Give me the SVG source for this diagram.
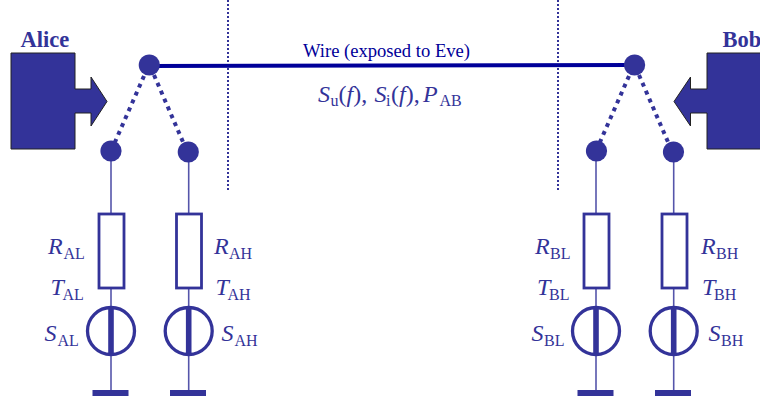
<svg xmlns="http://www.w3.org/2000/svg" width="760" height="406" viewBox="0 0 760 406">
<style>
.t{font-family:"Liberation Serif","Times New Roman",serif;fill:#333399}
.n{font-size:24px;font-style:italic}
.s{font-size:16px}
.b{font-size:22.500px;font-weight:bold}
.d{fill:#333399;stroke:none}
.l{stroke:#5555aa;stroke-width:1.6;fill:none}
.r{fill:#fff;stroke:#333399;stroke-width:2.8}
.c{fill:#fff;stroke:#333399;stroke-width:3.300}
.sw{stroke:#333399;stroke-width:4;stroke-dasharray:4 4.600;fill:none}
.v{stroke:#333399;stroke-width:2;stroke-dasharray:2 2;fill:none}
.box{fill:#333399;stroke:#222;stroke-width:1}
</style>
<g id="connectors">
<line class="v" x1="228" y1="0" x2="228" y2="191"/>
<line class="v" x1="558" y1="0" x2="558" y2="191"/>
<line x1="149" y1="66" x2="634" y2="65" stroke="#000099" stroke-width="4"/>
<line class="sw" x1="144" y1="76" x2="115" y2="142"/>
<line class="sw" x1="154" y1="75" x2="183" y2="142"/>
<line class="sw" x1="629" y1="76" x2="600" y2="142"/>
<line class="sw" x1="639" y1="75" x2="668" y2="142"/>
<line class="l" x1="111" y1="151" x2="111" y2="392"/>
<line class="l" x1="188.700" y1="151" x2="188.700" y2="392"/>
<line class="l" x1="596" y1="151" x2="596" y2="392"/>
<line class="l" x1="673.700" y1="151" x2="673.700" y2="392"/>
</g>
<g id="alice">
<path class="box" d="M11 53H75V89H91V77L107 101.500 91 126V113H75V149H11Z"/>
<text class="t b" x="20.500" y="47">Alice</text>
</g>
<g id="bob">
<path class="box" d="M761 53H707V89H690.500V77L674 101.500 690.500 126V113H707V149H761Z"/>
<text class="t b" x="722.500" y="47">Bob</text>
</g>
<g id="wire-label">
<text x="386.500" y="56.500" text-anchor="middle" font-size="18.600" font-family="'Liberation Serif','Times New Roman',serif" fill="#000099">Wire (exposed to Eve)</text>
<text class="t" x="318" y="102" font-size="24" font-style="italic">S</text>
<text class="t s" x="330.500" y="106">u</text>
<text class="t" x="338.500" y="102" font-size="24">(<tspan font-style="italic">f</tspan>),</text>
<text class="t" x="374.500" y="102" font-size="24" font-style="italic">S</text>
<text class="t s" x="386" y="106">i</text>
<text class="t" x="391" y="102" font-size="24">(<tspan font-style="italic">f</tspan>),</text>
<text class="t" x="423" y="102" font-size="24" font-style="italic">P</text>
<text class="t s" x="439.500" y="106">AB</text>
</g>
<g id="hub-a"><circle class="d" cx="149.300" cy="65" r="10.600"/></g>
<g id="hub-b"><circle class="d" cx="634.600" cy="65" r="10.600"/></g>
<g id="branch-al">
<circle class="d" cx="111" cy="151" r="10.600"/>
<rect class="r" x="99" y="214" width="25" height="74"/>
<circle class="c" cx="111" cy="331" r="23.500"/>
<rect class="d" x="108.200" y="307" width="5.600" height="48"/>
<rect class="d" x="92.500" y="390" width="36" height="6"/>
<text class="t n" x="48" y="254">R</text><text class="t s" x="63.500" y="259">AL</text>
<text class="t n" x="50.500" y="295">T</text><text class="t s" x="62.500" y="300">AL</text>
<text class="t n" x="44.500" y="340.500">S</text><text class="t s" x="57.500" y="345.500">AL</text>
</g>
<g id="branch-ah">
<circle class="d" cx="188.300" cy="152" r="10.600"/>
<rect class="r" x="176.500" y="214" width="25" height="74"/>
<circle class="c" cx="188.700" cy="331" r="23.500"/>
<rect class="d" x="185.900" y="307" width="5.600" height="48"/>
<rect class="d" x="170" y="390" width="36" height="6"/>
<text class="t n" x="214" y="254">R</text><text class="t s" x="229" y="259">AH</text>
<text class="t n" x="215.500" y="295">T</text><text class="t s" x="227.500" y="300">AH</text>
<text class="t n" x="221.500" y="340.500">S</text><text class="t s" x="234.500" y="345.500">AH</text>
</g>
<g id="branch-bl">
<circle class="d" cx="596.500" cy="151" r="10.600"/>
<rect class="r" x="584" y="214" width="25" height="74"/>
<circle class="c" cx="596" cy="331" r="23.500"/>
<rect class="d" x="593.200" y="307" width="5.600" height="48"/>
<rect class="d" x="577.500" y="390" width="36" height="6"/>
<text class="t n" x="535" y="254">R</text><text class="t s" x="550" y="259">BL</text>
<text class="t n" x="537" y="295">T</text><text class="t s" x="549" y="300">BL</text>
<text class="t n" x="531.500" y="340.500">S</text><text class="t s" x="544" y="345.500">BL</text>
</g>
<g id="branch-bh">
<circle class="d" cx="673.500" cy="152" r="10.600"/>
<rect class="r" x="662" y="214" width="25" height="74"/>
<circle class="c" cx="673.700" cy="331" r="23.500"/>
<rect class="d" x="670.900" y="307" width="5.600" height="48"/>
<rect class="d" x="655" y="390" width="36" height="6"/>
<text class="t n" x="701" y="254">R</text><text class="t s" x="716" y="259">BH</text>
<text class="t n" x="702" y="295">T</text><text class="t s" x="714" y="300">BH</text>
<text class="t n" x="708.500" y="340.500">S</text><text class="t s" x="721" y="345.500">BH</text>
</g>
</svg>
